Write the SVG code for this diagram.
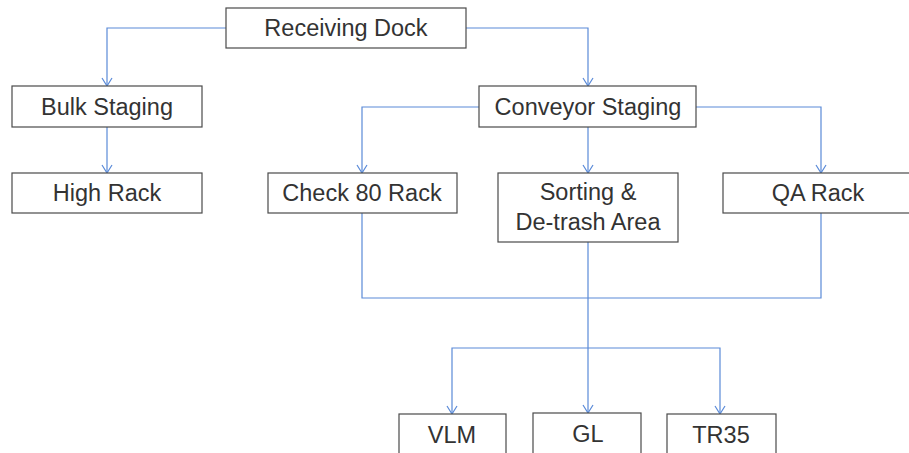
<svg xmlns="http://www.w3.org/2000/svg" width="909" height="453" viewBox="0 0 909 453">
<style>
.box{fill:#fff;stroke:#4a4a4a;stroke-width:1.2}
.lbl{font-family:"Liberation Sans",Arial,sans-serif;font-size:23.5px;fill:#333;text-anchor:middle}
.con{fill:none;stroke:#5a8ad8;stroke-width:1.2}
</style>
<defs>
<marker id="arr" viewBox="0 0 10 12" refX="9" refY="6" markerWidth="10" markerHeight="12" markerUnits="userSpaceOnUse" orient="auto">
<path d="M1 1 L9 6 L1 11" fill="none" stroke="#5a8ad8" stroke-width="1.2"/>
</marker>
</defs>
<rect width="909" height="453" fill="#fff"/>
<g id="connectors">
<path class="con" d="M226 28 H107 V86" marker-end="url(#arr)"/>
<path class="con" d="M466 28 H588 V86" marker-end="url(#arr)"/>
<path class="con" d="M107 127 V173" marker-end="url(#arr)"/>
<path class="con" d="M479 107 H362 V173" marker-end="url(#arr)"/>
<path class="con" d="M588 127 V173" marker-end="url(#arr)"/>
<path class="con" d="M696 107 H821 V173" marker-end="url(#arr)"/>
<path class="con" d="M362 213 V298 H821 V213"/>
<path class="con" d="M588 242 V413" marker-end="url(#arr)"/>
<path class="con" d="M588 348 H452 V414" marker-end="url(#arr)"/>
<path class="con" d="M588 348 H720 V414" marker-end="url(#arr)"/>
</g>
<g id="receiving-dock"><rect class="box" x="226" y="8" width="240" height="40"/><text class="lbl" x="346" y="36">Receiving Dock</text></g>
<g id="bulk-staging"><rect class="box" x="12" y="86" width="190" height="41"/><text class="lbl" x="107" y="115">Bulk Staging</text></g>
<g id="high-rack"><rect class="box" x="12" y="173" width="190" height="40"/><text class="lbl" x="107" y="201">High Rack</text></g>
<g id="conveyor-staging"><rect class="box" x="479" y="86" width="217" height="41"/><text class="lbl" x="588" y="115">Conveyor Staging</text></g>
<g id="check-80-rack"><rect class="box" x="268" y="173" width="189" height="40"/><text class="lbl" x="362" y="201">Check 80 Rack</text></g>
<g id="sorting"><rect class="box" x="498" y="173" width="180" height="69"/><text class="lbl" x="588" y="200">Sorting &amp;</text><text class="lbl" x="588" y="230">De-trash Area</text></g>
<g id="qa-rack"><rect class="box" x="723" y="173" width="200" height="40"/><text class="lbl" x="818" y="201">QA Rack</text></g>
<g id="vlm"><rect class="box" x="399" y="414" width="107" height="50"/><text class="lbl" x="452" y="443">VLM</text></g>
<g id="gl"><rect class="box" x="533" y="413" width="108" height="50"/><text class="lbl" x="588" y="442">GL</text></g>
<g id="tr35"><rect class="box" x="667" y="414" width="109" height="50"/><text class="lbl" x="721" y="443">TR35</text></g>
</svg>
